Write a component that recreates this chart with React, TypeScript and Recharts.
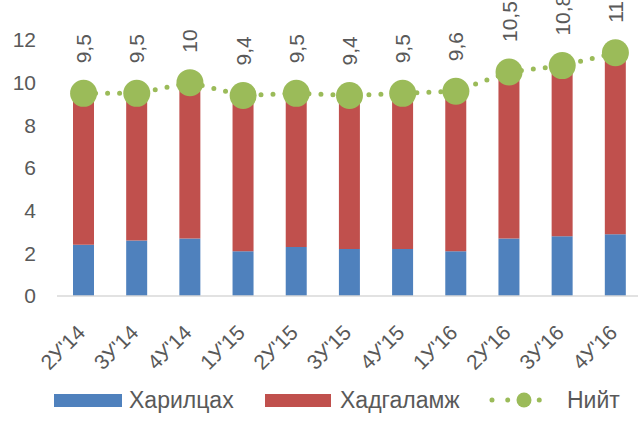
import React from "react";
import { ComposedChart, Bar, Line, XAxis, YAxis, Legend, LabelList } from "recharts";

const quarters = ["2У'14", "3У'14", "4У'14", "1У'15", "2У'15", "3У'15", "4У'15", "1У'16", "2У'16", "3У'16", "4У'16"];
const khariltsakh = [2.4, 2.6, 2.7, 2.1, 2.3, 2.2, 2.2, 2.1, 2.7, 2.8, 2.9];
const khadgalamj = [7.1, 6.9, 7.3, 7.3, 7.2, 7.2, 7.3, 7.5, 7.8, 8.0, 8.5];
const niit = [9.5, 9.5, 10, 9.4, 9.5, 9.4, 9.5, 9.6, 10.5, 10.8, 11.4];
const yTicks = [0, 2, 4, 6, 8, 10, 12];

const BLUE = "#4F81BD";
const RED = "#C0504D";
const GREEN = "#9BBB59";
const TEXT = "#595959";
const FONT = "'Liberation Sans', Arial, sans-serif";

const data = quarters.map((q, i) => ({
  q,
  khariltsakh: khariltsakh[i],
  khadgalamj: khadgalamj[i],
  niit: niit[i],
}));

const fmt = (v: number) => String(v).replace(".", ",");

const XTick = (props: any) => {
  const { x, y, payload } = props;
  return (
    <g transform={`translate(${x + 3},${y + 30})`}>
      <text transform="rotate(-45)" textAnchor="end" fill={TEXT} fontSize={21} fontFamily={FONT}>
        {payload.value}
      </text>
    </g>
  );
};

const TotalLabel = (props: any) => {
  const { x, y, value } = props;
  const tx = x + 7.5;
  const ty = y - 30;
  return (
    <text x={tx} y={ty} transform={`rotate(-90, ${tx}, ${ty})`} fill={TEXT} fontSize={21} fontFamily={FONT} textAnchor="start">
      {fmt(value)}
    </text>
  );
};

const LegendBox = () => (
  <svg width={638} height={30} style={{ display: "block" }}>
    <rect x={54} y={9} width={68} height={13} fill={BLUE} />
    <text x={129} y={23} fill={TEXT} fontSize={23} fontFamily={FONT}>Харилцах</text>
    <rect x={265} y={9} width={66} height={13} fill={RED} />
    <text x={340} y={23} fill={TEXT} fontSize={23} fontFamily={FONT}>Хадгаламж</text>
    <line x1={492} y1={15} x2={555} y2={15} stroke={GREEN} strokeWidth={5} strokeLinecap="round" strokeDasharray="0 15.75" />
    <circle cx={524} cy={15} r={7.5} fill={GREEN} />
    <text x={567} y={23} fill={TEXT} fontSize={23} fontFamily={FONT}>Нийт</text>
  </svg>
);

export default function App() {
  return (
    <div style={{ position: "absolute", left: 0, top: 0, width: 638, height: 423, overflow: "hidden", background: "#fff" }}>
      <ComposedChart
        width={660}
        height={423}
        data={data}
        margin={{ top: 40, right: 18, bottom: 0, left: 0 }}
        barSize={21}
      >
        <XAxis
          dataKey="q"
          interval={0}
          height={89}
          tick={<XTick />}
          tickLine={false}
          axisLine={{ stroke: "#D9D9D9", strokeWidth: 1.5 }}
        />
        <YAxis
          domain={[0, 12]}
          ticks={yTicks}
          width={57}
          axisLine={false}
          tickLine={false}
          tickSize={0}
          tickMargin={21}
          tick={{ fill: TEXT, fontSize: 21, fontFamily: FONT }}
        />
        <Legend verticalAlign="bottom" height={38} content={() => <LegendBox />} />
        <Bar dataKey="khariltsakh" stackId="a" fill={BLUE} isAnimationActive={false} />
        <Bar dataKey="khadgalamj" stackId="a" fill={RED} isAnimationActive={false} />
        <Line
          dataKey="niit"
          stroke={GREEN}
          strokeWidth={5}
          strokeLinecap="round"
          strokeDasharray="0 12"
          dot={{ r: 13.5, fill: GREEN, stroke: "none" }}
          isAnimationActive={false}
        >
          <LabelList dataKey="niit" content={<TotalLabel />} />
        </Line>
      </ComposedChart>
    </div>
  );
}
